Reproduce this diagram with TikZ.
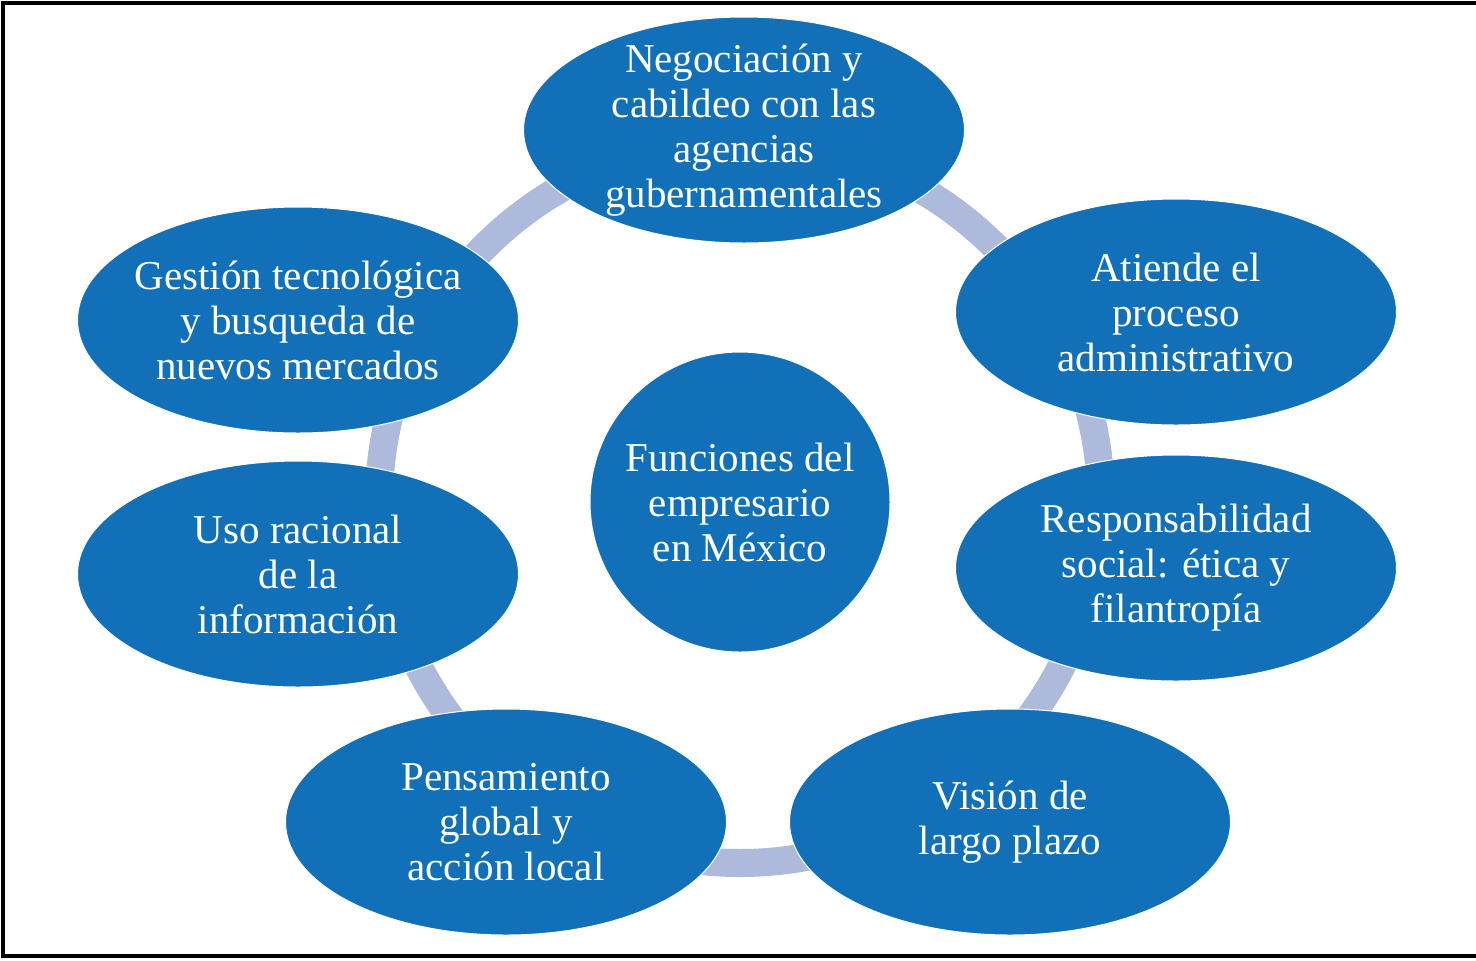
\documentclass[tikz,border=0pt]{standalone}
\usepackage{fontspec}
\setmainfont{Liberation Serif}
\usetikzlibrary{
  shapes.geometric,
  backgrounds
}
\definecolor{ideaBlue}{HTML}{1170B8}
\definecolor{ringLilac}{HTML}{AEBADC}
\tikzset{
  base/.style={
    align=center, text=white, inner sep=0pt,
    font=\fontsize{20.5}{22.5}\selectfont,
    fill=ideaBlue, draw=white, line width=0.5pt
  },
  ideaNode/.style={
    base, ellipse, inner xsep=-40pt, inner ysep=-25pt,
    minimum width=220.5pt, minimum height=113pt
  },
  hubNode/.style={
    base, circle, minimum size=150pt
  },
  ringLine/.style={
    draw=ringLilac, line width=14pt
  },
  frameLine/.style={
    draw=black, line width=2pt
  }
}
\begin{document}
\begin{tikzpicture}[x=0.5pt, y=-0.5pt]

\useasboundingbox (0,0) rectangle (1476,960);
\clip (0,0) rectangle (1476,960);

% ── FRAME ───────────────────────────────────────────────────────────
\draw[frameLine] (3,3) rectangle (1490,956);

% ── CENTRE ──────────────────────────────────────────────────────────
\node[hubNode] (H) at (740,502) {Funciones del\\empresario\\en México};

% ── FUNCTIONS AROUND THE RING ───────────────────────────────────────
\node[ideaNode] (N1) at (744,130)
  {Negociación y\\cabildeo con las\\agencias\\gubernamentales};
\node[ideaNode] (N2) at (1176,312)
  {Atiende el\\proceso\\administrativo};
\node[ideaNode] (N3) at (1176,568)
  {Responsabilidad\\social: ética y\\filantropía};
\node[ideaNode] (N4) at (1010,822)
  {Visión de\\largo plazo};
\node[ideaNode] (N5) at (506,822)
  {Pensamiento\\global y\\acción local};
\node[ideaNode] (N6) at (298,574)
  {Uso racional\\de la\\información};
\node[ideaNode] (N7) at (298,320)
  {Gestión tecnológica\\y busqueda de\\nuevos mercados};

% Ring behind the functions
\begin{scope}[on background layer]
  \draw[ringLine] (H.center) circle[radius=180.5pt];
\end{scope}

\end{tikzpicture}
\end{document}
